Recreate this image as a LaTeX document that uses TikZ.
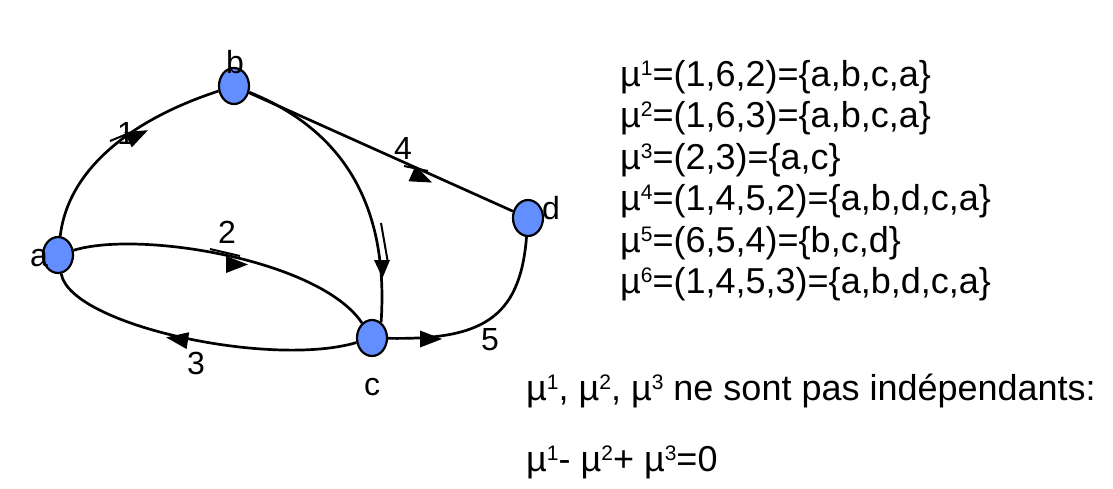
\documentclass[tikz,border=0pt]{standalone}
\usepackage{fontspec}
\setmainfont{Liberation Sans}
\usetikzlibrary{shapes.geometric}
\definecolor{nodeblue}{RGB}{98,142,255}
\newcommand\sps[1]{\raisebox{11pt}{\fontsize{21}{21}\selectfont #1}}
\begin{document}
\begin{tikzpicture}[x=1pt,y=-1pt,
  vert/.style={ellipse,draw=black,line width=2.2pt,fill=nodeblue,minimum width=30pt,minimum height=36pt,inner sep=0pt},
  edge/.style={line width=2.7pt},
  mstroke/.style={line width=2pt},
  tipfill/.style={fill=black},
  lbl/.style={font=\fontsize{32}{32}\selectfont,inner sep=0pt},
  txt/.style={font=\fontsize{36}{36}\selectfont,inner sep=0pt,anchor=base west}
]
\useasboundingbox (0,0) rectangle (1113,488);
% vertices
\node[vert] (a) at (58,255) {};
\node[vert] (b) at (234,86) {};
\node[vert] (c) at (372,338) {};
\node[vert] (d) at (528,218) {};
% edges
\draw[edge] (a) .. controls (68,170) and (130,120) .. (b);
\draw[edge] (a) .. controls (140,230) and (320,260) .. (c);
\draw[edge] (c) .. controls (270,368) and (70,325) .. (a);
\draw[edge] (b) -- (d);
\draw[edge] (c) .. controls (480,340) and (520,320) .. (d);
\draw[edge] (b) .. controls (355,135) and (388,220) .. (c.60);
% direction marks
\draw[mstroke] (110,141) -- (127,134);
\fill[tipfill] (147.9,130.2) -- (131.8,147.4) -- (124.4,132.2) -- cycle;
\draw[mstroke] (210,249) -- (240,256);
\fill[tipfill] (248,264.5) -- (226,256) -- (226,273) -- cycle;
\fill[tipfill] (166.1,337.4) -- (189.2,332.2) -- (186.6,349.0) -- cycle;
\draw[mstroke] (404,166) -- (428,171);
\fill[tipfill] (432.0,182.5) -- (408.5,181.3) -- (415.5,165.8) -- cycle;
\fill[tipfill] (442,339) -- (420,330.5) -- (420,347.5) -- cycle;
\draw[mstroke] (381,223) -- (388,263);
\fill[tipfill] (382.5,278) -- (374,260) -- (390,260) -- cycle;
% vertex labels
\node[lbl] (la) at (39,258) {a};
\node[lbl] (lb) at (235,62) {b};
\node[lbl] (lc) at (372,387) {c};
\node[lbl] (ld) at (551,208) {d};
% edge labels
\node[lbl] (l1) at (126,133) {1};
\node[lbl] (l2) at (227,232) {2};
\node[lbl] (l3) at (196,363) {3};
\node[lbl] (l4) at (403,148) {4};
\node[lbl] (l5) at (490,340) {5};
% text block
\node[txt] (t1) at (620,86) {µ\sps{1}=(1,6,2)=\{a,b,c,a\}};
\node[txt] (t2) at (620,127.5) {µ\sps{2}=(1,6,3)=\{a,b,c,a\}};
\node[txt] (t3) at (620,169) {µ\sps{3}=(2,3)=\{a,c\}};
\node[txt] (t4) at (620,210.5) {µ\sps{4}=(1,4,5,2)=\{a,b,d,c,a\}};
\node[txt] (t5) at (620,252) {µ\sps{5}=(6,5,4)=\{b,c,d\}};
\node[txt] (t6) at (620,293.5) {µ\sps{6}=(1,4,5,3)=\{a,b,d,c,a\}};
\node[txt] (t7) at (526,400) {µ\sps{1}, µ\sps{2}, µ\sps{3} ne sont pas indépendants:};
\node[txt] (t8) at (526,471) {µ\sps{1}- µ\sps{2}+ µ\sps{3}=0};
\end{tikzpicture}
\end{document}
